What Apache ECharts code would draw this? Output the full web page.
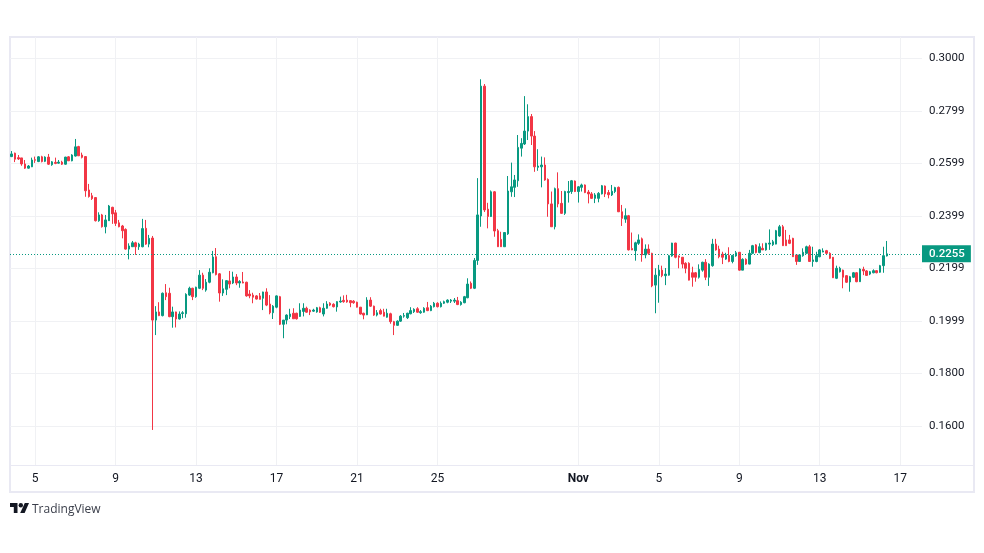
<!DOCTYPE html>
<html>
<head>
<meta charset="utf-8">
<title>TradingView candles</title>
<script src="https://cdn.jsdelivr.net/npm/echarts@6/dist/echarts.min.js"></script>
<style>
html, body { margin: 0; padding: 0; background: #fff; }
#chart { width: 984px; height: 553px; }
</style>
</head>
<body>
<div id="chart"></div>
<script>
// 4h candles
var opens = [
.2625,.2638,.2621,.2620,.2597,.2581,.2586,.2613,.2606,.2624,.2607,.2623,.2594,.2603,.2600,.2604,.2596,.2624,.2609,.2627,
.2663,.2631,.2625,.2498,.2476,.2469,.2381,.2403,.2358,.2381,.2432,.2411,.2373,.2361,.2348,.2273,.2282,.2297,.2282,.2282,
.2352,.2292,.2315,.2003,.2034,.2020,.2107,.2105,.2016,.2034,.2007,.2028,.2027,.2098,.2124,.2092,.2124,.2174,.2117,.2147,
.2183,.2244,.2179,.2106,.2120,.2152,.2144,.2167,.2144,.2148,.2147,.2102,.2098,.2095,.2095,.2086,.2110,.2064,.2031,.2052,
.2092,.1987,.2003,.2016,.2029,.2029,.2017,.2036,.2048,.2041,.2037,.2034,.2050,.2026,.2048,.2067,.2063,.2053,.2072,.2078,
.2079,.2077,.2075,.2071,.2052,.2029,.2023,.2079,.2056,.2022,.2039,.2033,.2014,.2027,.1997,.1983,.1999,.2018,.2012,.2027,
.2035,.2046,.2031,.2033,.2050,.2039,.2054,.2067,.2054,.2067,.2071,.2075,.2075,.2077,.2062,.2069,.2088,.2143,.2124,.2230,
.2399,.2893,.2425,.2397,.2491,.2343,.2310,.2282,.2331,.2491,.2508,.2533,.2657,.2673,.2722,.2777,.2703,.2584,.2586,.2593,
.2538,.2445,.2358,.2503,.2447,.2409,.2488,.2492,.2532,.2492,.2508,.2517,.2490,.2483,.2466,.2466,.2483,.2513,.2488,.2479,
.2492,.2508,.2415,.2387,.2400,.2275,.2267,.2295,.2312,.2251,.2273,.2257,.2136,.2172,.2193,.2172,.2174,.2247,.2296,.2247,
.2242,.2219,.2219,.2183,.2183,.2166,.2193,.2223,.2166,.2210,.2292,.2273,.2254,.2235,.2249,.2226,.2247,.2261,.2193,.2234,
.2216,.2257,.2289,.2260,.2276,.2270,.2292,.2290,.2292,.2323,.2358,.2308,.2308,.2314,.2251,.2226,.2248,.2257,.2282,.2226,
.2226,.2244,.2262,.2267,.2257,.2242,.2162,.2187,.2193,.2172,.2148,.2166,.2183,.2149,.2196,.2190,.2178,.2183,.2191,.2185,
.2210,.2247
];
var highs = [
.2646,.2640,.2631,.2620,.2612,.2593,.2621,.2625,.2627,.2628,.2626,.2635,.2608,.2621,.2612,.2609,.2624,.2627,.2634,.2692,
.2666,.2640,.2627,.2521,.2487,.2471,.2413,.2407,.2403,.2441,.2434,.2422,.2384,.2365,.2352,.2295,.2304,.2301,.2297,.2388,
.2384,.2327,.2323,.2056,.2071,.2108,.2140,.2126,.2054,.2035,.2036,.2037,.2105,.2130,.2126,.2130,.2193,.2183,.2159,.2200,
.2266,.2277,.2182,.2158,.2155,.2190,.2187,.2178,.2155,.2186,.2149,.2117,.2107,.2098,.2106,.2111,.2124,.2098,.2060,.2097,
.2095,.2003,.2025,.2046,.2048,.2031,.2067,.2067,.2054,.2044,.2046,.2053,.2054,.2067,.2075,.2071,.2067,.2075,.2092,.2097,
.2099,.2079,.2079,.2073,.2053,.2031,.2090,.2090,.2058,.2041,.2046,.2046,.2046,.2031,.2000,.2002,.2022,.2030,.2031,.2052,
.2048,.2052,.2041,.2052,.2072,.2060,.2072,.2071,.2074,.2077,.2082,.2083,.2087,.2091,.2075,.2095,.2162,.2150,.2239,.2543,
.2919,.2901,.2449,.2496,.2494,.2350,.2339,.2338,.2551,.2602,.2555,.2707,.2695,.2855,.2824,.2787,.2722,.2653,.2625,.2622,
.2542,.2492,.2507,.2565,.2494,.2495,.2532,.2536,.2534,.2513,.2522,.2519,.2498,.2490,.2486,.2490,.2517,.2515,.2498,.2517,
.2510,.2511,.2441,.2428,.2403,.2336,.2301,.2329,.2317,.2291,.2291,.2259,.2200,.2213,.2210,.2201,.2251,.2297,.2297,.2249,
.2243,.2223,.2223,.2206,.2186,.2215,.2225,.2235,.2219,.2312,.2312,.2286,.2263,.2259,.2280,.2251,.2266,.2262,.2238,.2238,
.2270,.2289,.2292,.2295,.2295,.2297,.2348,.2308,.2346,.2365,.2365,.2346,.2327,.2316,.2253,.2252,.2276,.2286,.2289,.2282,
.2263,.2273,.2276,.2270,.2261,.2243,.2210,.2206,.2195,.2174,.2171,.2186,.2186,.2200,.2206,.2193,.2190,.2196,.2193,.2213,
.2282,.2304
];
var lows = [
.2623,.2604,.2612,.2590,.2578,.2579,.2585,.2601,.2604,.2603,.2604,.2593,.2590,.2596,.2598,.2593,.2594,.2608,.2607,.2625,
.2627,.2618,.2472,.2469,.2460,.2378,.2377,.2355,.2333,.2380,.2369,.2361,.2356,.2314,.2271,.2234,.2281,.2251,.2270,.2280,
.2289,.2280,.1585,.1946,.2018,.2017,.2079,.2014,.1974,.1975,.2005,.2010,.2012,.2095,.2079,.2088,.2121,.2117,.2111,.2143,
.2181,.2173,.2073,.2095,.2098,.2124,.2140,.2136,.2126,.2143,.2092,.2086,.2067,.2081,.2081,.2041,.2056,.2025,.2007,.2048,
.1984,.1934,.1987,.2007,.2008,.2005,.2015,.2017,.2031,.2022,.2034,.2031,.2030,.2017,.2046,.2056,.2051,.2035,.2069,.2069,
.2069,.2052,.2065,.2051,.2024,.2006,.2022,.2053,.2019,.2017,.2024,.2017,.2012,.1989,.1946,.1981,.1996,.2012,.2007,.2025,
.2030,.2031,.2027,.2031,.2037,.2037,.2051,.2051,.2051,.2064,.2067,.2068,.2068,.2060,.2058,.2067,.2086,.2121,.2121,.2213,
.2358,.2414,.2352,.2395,.2320,.2281,.2281,.2281,.2327,.2472,.2471,.2510,.2625,.2669,.2688,.2669,.2567,.2571,.2508,.2533,
.2396,.2358,.2348,.2432,.2407,.2403,.2450,.2483,.2490,.2450,.2492,.2486,.2447,.2464,.2448,.2451,.2481,.2471,.2466,.2475,
.2486,.2414,.2361,.2373,.2268,.2269,.2229,.2289,.2225,.2238,.2251,.2128,.2029,.2069,.2166,.2136,.2172,.2244,.2238,.2200,
.2200,.2181,.2154,.2130,.2149,.2161,.2187,.2155,.2133,.2206,.2267,.2238,.2216,.2232,.2223,.2219,.2244,.2191,.2193,.2213,
.2215,.2254,.2257,.2257,.2270,.2267,.2270,.2285,.2291,.2320,.2285,.2286,.2292,.2243,.2213,.2224,.2244,.2254,.2226,.2206,
.2223,.2242,.2261,.2254,.2235,.2163,.2159,.2184,.2124,.2144,.2111,.2163,.2147,.2148,.2174,.2171,.2174,.2181,.2181,.2183,
.2183,.2245
];
var closes = [
.2635,.2615,.2616,.2597,.2581,.2589,.2612,.2611,.2624,.2606,.2623,.2596,.2605,.2599,.2604,.2596,.2623,.2609,.2631,.2662,
.2628,.2622,.2495,.2473,.2465,.2381,.2403,.2358,.2384,.2437,.2407,.2371,.2358,.2343,.2273,.2285,.2297,.2282,.2292,.2351,
.2292,.2314,.2003,.2034,.2020,.2105,.2092,.2016,.2034,.2007,.2026,.2031,.2101,.2124,.2092,.2128,.2174,.2124,.2147,.2185,
.2243,.2176,.2106,.2122,.2153,.2140,.2167,.2144,.2150,.2144,.2095,.2095,.2090,.2083,.2082,.2110,.2060,.2031,.2056,.2095,
.1987,.2003,.2022,.2026,.2008,.2008,.2041,.2048,.2033,.2034,.2041,.2050,.2033,.2048,.2064,.2060,.2054,.2073,.2075,.2073,
.2072,.2069,.2069,.2052,.2026,.2022,.2079,.2056,.2022,.2031,.2026,.2018,.2029,.1997,.1983,.1999,.2018,.2020,.2029,.2039,
.2044,.2033,.2035,.2048,.2039,.2056,.2067,.2054,.2067,.2073,.2079,.2079,.2079,.2062,.2071,.2092,.2140,.2124,.2230,.2403,
.2893,.2422,.2397,.2491,.2342,.2282,.2282,.2336,.2494,.2510,.2536,.2660,.2675,.2722,.2777,.2703,.2586,.2589,.2593,.2536,
.2445,.2358,.2503,.2445,.2409,.2492,.2492,.2533,.2492,.2510,.2517,.2488,.2483,.2466,.2479,.2485,.2514,.2483,.2480,.2493,
.2507,.2415,.2390,.2400,.2270,.2270,.2297,.2308,.2251,.2273,.2257,.2133,.2174,.2193,.2172,.2178,.2248,.2296,.2242,.2242,
.2216,.2200,.2155,.2166,.2166,.2196,.2223,.2166,.2216,.2292,.2270,.2244,.2242,.2251,.2226,.2249,.2259,.2193,.2234,.2216,
.2257,.2286,.2260,.2282,.2270,.2295,.2296,.2301,.2343,.2358,.2286,.2286,.2295,.2244,.2226,.2251,.2261,.2282,.2226,.2232,
.2248,.2270,.2266,.2257,.2238,.2164,.2200,.2200,.2166,.2147,.2168,.2183,.2149,.2197,.2190,.2173,.2187,.2191,.2183,.2210,
.2248,.2255
];
var lastPrice = 0.2255;
var priceTicks = [0.16, 0.18, 0.1999, 0.2199, 0.2399, 0.2599, 0.2799, 0.30];
// candle index -> label on the time axis
var dateTicks = {7: '5', 31: '9', 55: '13', 79: '17', 103: '21', 127: '25', 169: 'Nov', 193: '5', 217: '9', 241: '13', 265: '17'};
var candleCount = 272; // empty room after the last candle

var UP = '#089981';
var DOWN = '#f23645';
var FRAME = '#e9e9f3';
var GRID = '#f0f1f4';
var TEXT = '#131722';

var categories = [];
var candles = [];
for (var i = 0; i < candleCount; i++) {
    categories.push(String(i));
    if (i < opens.length) {
        candles.push([opens[i], closes[i], lows[i], highs[i]]);
    }
}

var isDateTick = function (index) {
    return dateTicks[index] !== undefined;
};

var myChart = echarts.init(document.getElementById('chart'));
myChart.setOption({
    animation: false,
    backgroundColor: '#fff',
    textStyle: { fontFamily: 'Roboto, sans-serif' },
    grid: { left: 10, right: 62, top: 37, bottom: 88 },
    xAxis: {
        type: 'category',
        data: categories,
        axisLine: { show: false },
        axisTick: { show: false },
        axisLabel: {
            interval: isDateTick,
            margin: 8,
            fontSize: 12,
            color: TEXT,
            fontFamily: 'Roboto, sans-serif',
            formatter: function (value, index) {
                var label = dateTicks[index];
                return label === 'Nov' ? '{b|Nov}' : label;
            },
            rich: { b: { fontWeight: 'bold', fontSize: 12, color: TEXT } }
        },
        splitLine: {
            show: true,
            interval: isDateTick,
            alignWithLabel: true,
            lineStyle: { color: GRID, width: 1 }
        }
    },
    yAxis: {
        type: 'value',
        position: 'right',
        min: 0.14517,
        max: 0.30799,
        axisLine: { show: false },
        axisTick: { show: false, customValues: priceTicks },
        axisLabel: {
            customValues: priceTicks,
            margin: 7,
            fontSize: 11.5,
            padding: [2, 0, 0, 0],
            color: TEXT,
            fontFamily: 'Roboto, sans-serif',
            formatter: function (value) { return value.toFixed(4); }
        },
        splitLine: { show: true, lineStyle: { color: GRID, width: 1 } }
    },
    series: [{
        type: 'candlestick',
        data: candles,
        barWidth: 2,
        itemStyle: {
            color: UP,
            color0: DOWN,
            borderColor: UP,
            borderColor0: DOWN,
            borderWidth: 1
        },
        markLine: {
            silent: true,
            symbol: 'none',
            precision: 4,
            data: [{ yAxis: lastPrice }],
            lineStyle: { color: UP, type: [1, 2], width: 1 },
            label: {
                position: 'end',
                distance: 0,
                formatter: lastPrice.toFixed(4),
                backgroundColor: UP,
                color: '#fff',
                fontWeight: 500,
                fontSize: 11.5,
                lineHeight: 13,
                fontFamily: 'Roboto, sans-serif',
                padding: [2, 6, 2, 7]
            }
        }
    }],
    graphic: [
        { type: 'rect', silent: true, shape: { x: 10, y: 37, width: 964, height: 455 },
          style: { fill: 'none', stroke: FRAME, lineWidth: 2 } },
        { type: 'line', silent: true, shape: { x1: 10, y1: 465.5, x2: 974, y2: 465.5 },
          style: { stroke: FRAME, lineWidth: 1 } },
        // logo mark
        { type: 'polygon', silent: true, shape: { points: [[10, 503], [17.5, 503], [17.5, 513], [13.8, 513], [13.8, 507], [10, 507]] },
          style: { fill: '#131722' } },
        { type: 'circle', silent: true, shape: { cx: 20.8, cy: 505.2, r: 2.2 }, style: { fill: '#131722' } },
        { type: 'polygon', silent: true, shape: { points: [[24.8, 503], [29, 503], [24.6, 513], [20.2, 513]] },
          style: { fill: '#131722' } },
        { type: 'text', silent: true, x: 32, y: 504,
          style: { text: 'TradingView', fill: '#3a3e4a', fontSize: 12, fontFamily: 'Open Sans, sans-serif' } }
    ]
});
</script>
</body>
</html>
